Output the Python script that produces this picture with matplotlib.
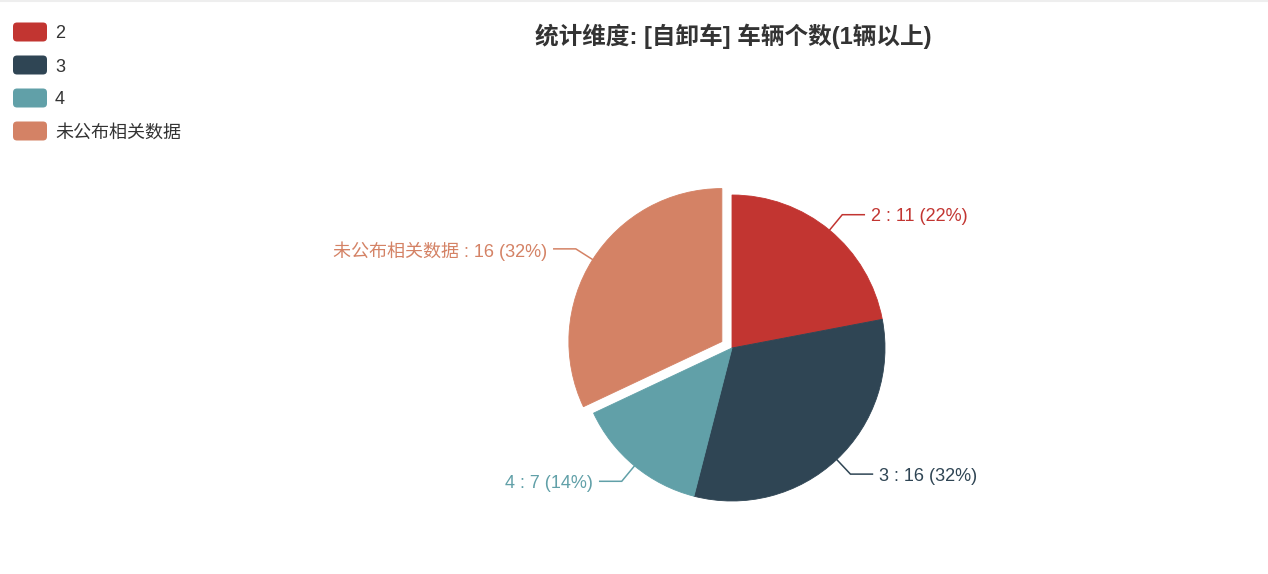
import numpy as np
import matplotlib
matplotlib.use("Agg")
import matplotlib.pyplot as plt
from matplotlib.patches import FancyBboxPatch

plt.rcParams['font.family'] = ['Liberation Sans', 'Noto Sans CJK SC', 'DejaVu Sans']

# data
categories = ['2', '3', '4', '未公布相关数据']
counts = [11, 16, 7, 16]
colors = ['#c23531', '#2f4554', '#61a0a8', '#d48265']
selected = [0, 0, 0, 1]
title = '统计维度: [自卸车] 车辆个数(1辆以上)'

W, H = 1268, 574
fig = plt.figure(figsize=(W / 100, H / 100), dpi=100)
ax = fig.add_axes([0, 0, 1, 1])
ax.set_xlim(0, W)
ax.set_ylim(0, H)
ax.axis('off')

def py(y):
    # pixel row (from top) -> data y
    return H - y

cx, cy, R = 732, py(348), 153
wedges, _ = ax.pie(counts, colors=colors, startangle=90, counterclock=False,
                   center=(cx, cy), radius=R,
                   explode=[12 * s for s in selected],
                   wedgeprops=dict(linewidth=0))
for w, col in zip(wedges, colors):
    w.set_edgecolor(col)
    w.set_linewidth(0.6)
ax.set_xlim(0, W)
ax.set_ylim(0, H)
ax.set_aspect('equal')

total = sum(counts)
for w, name, n, col in zip(wedges, categories, counts, colors):
    mid = np.radians((w.theta1 + w.theta2) / 2)
    x0, y0 = w.center
    ex, ey = x0 + R * np.cos(mid), y0 + R * np.sin(mid)
    bx, by = x0 + (R + 20) * np.cos(mid), y0 + (R + 20) * np.sin(mid)
    side = 1 if np.cos(mid) >= 0 else -1
    hx = bx + side * 22
    ax.plot([ex, bx, hx], [ey, by, by], color=col, lw=1.1, solid_joinstyle='miter')
    pct = round(n / total * 100)
    ax.text(hx + side * 7, by - 2, f'{name} : {n} ({pct}%)', color=col, fontsize=13,
            ha='left' if side > 0 else 'right', va='center')

ax.text(733, py(36), title, fontsize=17, fontweight='bold', color='#333333',
        ha='center', va='center')

# legend
for i, (name, col) in enumerate(zip(categories, colors)):
    yc = py(32 + 33 * i)
    box = FancyBboxPatch((13, yc - 9.5), 34, 19, boxstyle='round,pad=0,rounding_size=4',
                         facecolor=col, edgecolor='none')
    ax.add_patch(box)
    ax.text(55, yc - 2, name, fontsize=13, color='#333333', ha='left', va='center')

ax.plot([0, W], [H - 0.5, H - 0.5], color='#eeeeee', lw=1.5)

fig.savefig('out.png', dpi=100)
